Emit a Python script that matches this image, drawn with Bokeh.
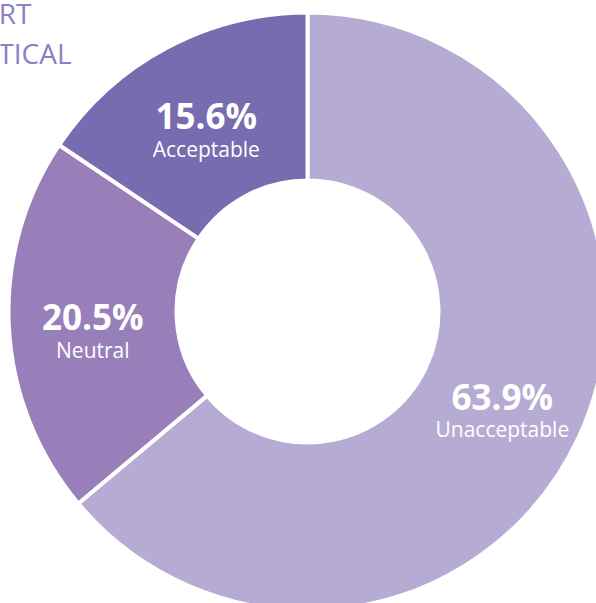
import math
from bokeh.plotting import figure
from bokeh.models import Range1d, ColumnDataSource
from bokeh.core.properties import value
from bokeh.embed import file_html
from bokeh.resources import INLINE

# ---- data ----
categories = ["Unacceptable", "Neutral", "Acceptable"]
percents = [63.9, 20.5, 15.6]
colors = ["#B6ABD3", "#987FBA", "#776CB0"]
header_lines = ["ORT", "TICAL"]

W, H = 596, 603
p = figure(width=W, height=H, output_backend="svg", toolbar_location=None,
           x_range=Range1d(0, W), y_range=Range1d(0, H), min_border=0)
p.axis.visible = False
p.grid.visible = False
p.outline_line_color = None
p.background_fill_color = "white"

cx, cy = 307, 292
r_in, r_out = 131, 299

total = sum(percents)
starts, ends, lx, ly = [], [], [], []
cum = 0.0
for v in percents:
    a0 = cum / total
    a1 = (cum + v) / total
    cum += v
    # clockwise from top
    starts.append(math.pi / 2 - a1 * 2 * math.pi)
    ends.append(math.pi / 2 - a0 * 2 * math.pi)
    mid = math.pi / 2 - (a0 + a1) / 2 * 2 * math.pi
    rm = (r_in + r_out) / 2
    lx.append(cx + rm * math.cos(mid))
    ly.append(cy + rm * math.sin(mid))

src = ColumnDataSource(dict(start=starts, end=ends, color=colors,
                            pct=[f"{v:.1f}%" for v in percents], cat=categories,
                            x=lx, y_pct=[y + 6 for y in ly], y_cat=[y - 27 for y in ly]))

p.annular_wedge(x=cx, y=cy, inner_radius=r_in, outer_radius=r_out,
                start_angle="start", end_angle="end", fill_color="color",
                line_color="white", line_width=4, source=src)

p.text(x="x", y="y_pct", text="pct", source=src, text_color="white",
       text_font=value("Open Sans"), text_font_style="bold", text_font_size="35px",
       text_align="center", text_baseline="alphabetic")
p.text(x="x", y="y_cat", text="cat", source=src, text_color="white",
       text_font=value("Open Sans"), text_font_size="21px",
       text_align="center", text_baseline="alphabetic")

p.text(x=[31, 71], y=[H - 12, H - 52], text=header_lines, text_color="#8D7FC0",
       text_font=value("Open Sans"), text_font_size="28px",
       text_align="right", text_baseline="alphabetic")

open("out.html", "w").write(file_html(p, INLINE))
